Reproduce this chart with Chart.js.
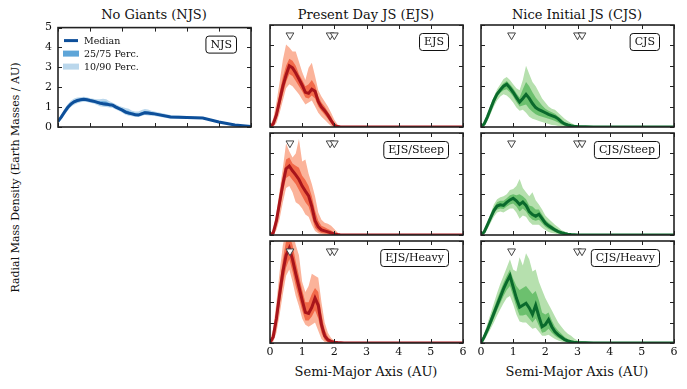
<!DOCTYPE html>
<html>
<head>
<meta charset="utf-8">
<script src="https://cdn.jsdelivr.net/npm/chart.js@4.4.1/dist/chart.umd.min.js"></script>
<style>
body { margin: 0; background: #fff; width: 687px; height: 389px; position: relative; overflow: hidden; font-family: "DejaVu Serif", serif; color: #111; }
canvas { position: absolute; }
.t { position: absolute; text-align: center; white-space: nowrap; line-height: 1; }
</style>
</head>
<body>
<div class="t" style="left:54px;top:8px;width:200px;font-size:13px">No Giants (NJS)</div>
<div class="t" style="left:266px;top:8px;width:200px;font-size:13px">Present Day JS (EJS)</div>
<div class="t" style="left:477px;top:8px;width:200px;font-size:13px">Nice Initial JS (CJS)</div>
<div class="t" style="left:266px;top:365px;width:200px;font-size:13px">Semi-Major Axis (AU)</div>
<div class="t" style="left:477px;top:365px;width:200px;font-size:13px">Semi-Major Axis (AU)</div>
<div class="t" style="left:-135px;top:172px;width:300px;font-size:11px;transform:rotate(-90deg)">Radial Mass Density (Earth Masses / AU)</div>

<script>
// semi-major axis grid (AU)
const X = [0,0.1,0.2,0.3,0.4,0.5,0.6,0.7,0.8,0.9, 1.0,1.1,1.2,1.3,1.4,1.5,1.6,1.7,1.8,1.9, 2.0,2.1,2.2,2.3,2.4,2.5,2.6,2.7,2.8,2.9, 3.0, 3.5,4.0,4.5,5.0,5.5,6.0];

// No Giants
const njsMed = [0.28,0.5,0.75,0.98,1.15,1.27,1.33,1.37,1.39,1.37, 1.33,1.3,1.25,1.2,1.17,1.15,1.12,1.1,1.0,0.92, 0.85,0.75,0.7,0.66,0.62,0.6,0.66,0.72,0.7,0.68, 0.66, 0.5,0.48,0.45,0.25,0.1,0.02];
const njsQ25 = [0.25,0.44,0.68,0.9,1.08,1.2,1.27,1.31,1.33,1.32, 1.28,1.24,1.19,1.13,1.1,1.08,1.05,1.03,0.94,0.86, 0.78,0.68,0.63,0.6,0.57,0.55,0.6,0.65,0.64,0.62, 0.6, 0.46,0.45,0.42,0.23,0.09,0.02];
const njsQ75 = [0.32,0.56,0.82,1.06,1.23,1.35,1.4,1.43,1.45,1.43, 1.38,1.36,1.32,1.3,1.3,1.28,1.2,1.16,1.07,0.99, 0.92,0.84,0.8,0.74,0.7,0.68,0.74,0.8,0.78,0.75, 0.72, 0.55,0.52,0.48,0.27,0.11,0.03];
const njsQ10 = [0.2,0.38,0.6,0.82,1.0,1.12,1.2,1.25,1.27,1.26, 1.22,1.18,1.12,1.05,1.02,1.0,0.98,0.96,0.88,0.8, 0.72,0.62,0.57,0.54,0.52,0.5,0.55,0.6,0.58,0.57, 0.55, 0.42,0.42,0.4,0.21,0.08,0.01];
const njsQ90 = [0.36,0.62,0.9,1.14,1.32,1.43,1.48,1.5,1.52,1.5, 1.45,1.42,1.4,1.4,1.42,1.4,1.3,1.22,1.14,1.06, 1.0,0.95,0.92,0.82,0.78,0.78,0.85,0.9,0.88,0.82, 0.78, 0.6,0.55,0.5,0.29,0.12,0.04];

// Present Day JS
const ejsMed = [0,0.15,0.6,1.3,2.0,2.55,3.0,2.9,2.65,2.35, 2.05,1.7,1.65,1.85,1.75,1.25,0.98,0.8,0.58,0.32, 0.08,0.02,0,0,0,0,0,0,0,0, 0, 0,0,0,0,0,0];
const ejsQ25 = [0,0.08,0.4,1.0,1.6,2.2,2.6,2.5,2.25,2.0, 1.75,1.45,1.4,1.55,1.4,1.0,0.78,0.6,0.4,0.18, 0.02,0,0,0,0,0,0,0,0,0, 0, 0,0,0,0,0,0];
const ejsQ75 = [0.02,0.25,0.85,1.7,2.45,3.0,3.35,3.25,3.0,2.6, 2.3,2.0,2.1,2.3,2.05,1.5,1.2,1.0,0.75,0.5, 0.2,0.05,0.01,0,0,0,0,0,0,0, 0, 0,0,0,0,0,0];
const ejsQ10 = [0,0,0.2,0.7,1.3,1.9,2.1,2.0,1.8,1.6, 1.35,1.1,1.2,1.3,1.0,0.7,0.5,0.35,0.2,0.05, 0,0,0,0,0,0,0,0,0,0, 0, 0,0,0,0,0,0];
const ejsQ90 = [0.05,0.4,1.2,2.2,3.3,4.05,3.9,3.7,3.7,3.2, 2.7,2.3,2.9,3.15,2.5,1.8,1.5,1.25,1.0,0.7, 0.35,0.12,0.04,0.02,0,0,0,0,0,0, 0, 0,0,0,0,0,0];

const esMed = [0,0.1,0.7,1.6,2.5,3.25,3.38,3.15,2.95,2.72, 2.4,2.15,1.92,1.4,0.7,0.4,0.25,0.2,0.15,0.1, 0.05,0.02,0,0,0,0,0,0,0,0, 0, 0,0,0,0,0,0];
const esQ25 = [0,0.04,0.45,1.25,2.1,2.8,2.9,2.7,2.5,2.2, 1.9,1.6,1.4,0.9,0.35,0.18,0.1,0.07,0.05,0.03, 0.01,0,0,0,0,0,0,0,0,0, 0, 0,0,0,0,0,0];
const esQ75 = [0.02,0.2,0.9,1.95,2.9,3.7,3.8,3.5,3.4,3.3, 2.9,2.7,2.4,1.9,1.2,0.7,0.45,0.38,0.3,0.22, 0.12,0.04,0.01,0,0,0,0,0,0,0, 0, 0,0,0,0,0,0];
const esQ10 = [0,0,0.25,0.8,1.6,2.3,2.4,2.1,1.6,1.5, 1.3,1.0,0.9,0.5,0.2,0.08,0.03,0,0,0, 0,0,0,0,0,0,0,0,0,0, 0, 0,0,0,0,0,0];
const esQ90 = [0.03,0.3,1.1,2.2,3.3,4.5,4.1,3.8,4.0,4.7, 3.6,3.7,3.0,2.5,1.9,1.1,0.75,0.6,0.55,0.45, 0.3,0.12,0.04,0.01,0,0,0,0,0,0, 0, 0,0,0,0,0,0];

const ehMed = [0.02,0.3,1.2,2.4,3.5,4.3,4.65,4.1,3.4,2.75, 2.1,1.5,1.45,1.75,2.2,1.85,0.9,0.35,0.15,0.08, 0.04,0.02,0.01,0,0,0,0,0,0,0, 0, 0,0,0,0,0,0];
const ehQ25 = [0,0.15,0.85,1.9,2.9,3.7,4.1,3.5,2.8,2.2, 1.6,1.1,1.1,1.3,1.6,1.2,0.5,0.15,0.05,0.02, 0,0,0,0,0,0,0,0,0,0, 0, 0,0,0,0,0,0];
const ehQ75 = [0.05,0.5,1.6,2.9,4.1,5.0,5.3,4.8,4.0,3.3, 2.6,2.0,2.0,2.4,2.7,2.5,1.4,0.65,0.3,0.15, 0.07,0.03,0.01,0,0,0,0,0,0,0, 0, 0,0,0,0,0,0];
const ehQ10 = [0,0.05,0.5,1.4,2.4,3.3,3.6,3.0,2.3,1.8, 1.2,0.9,0.8,0.9,1.0,0.6,0.2,0.05,0.01,0, 0,0,0,0,0,0,0,0,0,0, 0, 0,0,0,0,0,0];
const ehQ90 = [0.1,0.7,2.0,3.5,4.8,5.5,6.0,5.5,4.8,4.3, 3.0,2.5,2.8,3.4,3.3,3.2,2.0,1.0,0.5,0.25, 0.12,0.06,0.03,0.02,0.01,0,0,0,0,0, 0, 0,0,0,0,0,0];

// Nice Initial JS
const cjsMed = [0,0.15,0.5,0.9,1.3,1.62,1.82,2.0,2.1,1.92, 1.7,1.45,1.22,1.4,1.6,1.4,1.15,0.95,0.85,0.78, 0.7,0.62,0.56,0.5,0.4,0.25,0.15,0.1,0.06,0.03, 0.02, 0,0,0,0,0,0];
const cjsQ25 = [0,0.1,0.42,0.8,1.18,1.48,1.68,1.8,1.85,1.7, 1.5,1.22,1.0,1.05,1.1,0.9,0.75,0.62,0.55,0.5, 0.45,0.4,0.35,0.3,0.22,0.12,0.07,0.04,0.02,0.01, 0, 0,0,0,0,0,0];
const cjsQ75 = [0.01,0.2,0.58,1.0,1.4,1.72,1.95,2.15,2.25,2.1, 1.9,1.65,1.45,1.85,2.2,2.0,1.7,1.45,1.25,1.05, 0.9,0.8,0.72,0.65,0.52,0.38,0.25,0.17,0.1,0.06, 0.03, 0,0,0,0,0,0];
const cjsQ10 = [0,0.05,0.3,0.65,1.0,1.3,1.5,1.6,1.55,1.4, 1.2,0.95,0.8,0.85,0.7,0.5,0.4,0.35,0.3,0.25, 0.2,0.15,0.1,0.08,0.05,0.02,0,0,0,0, 0, 0,0,0,0,0,0];
const cjsQ90 = [0.02,0.25,0.65,1.1,1.5,1.85,2.1,2.35,2.45,2.3, 2.1,1.9,1.8,2.3,3.0,2.6,2.2,2.0,1.7,1.4, 1.2,1.0,0.9,0.85,0.7,0.55,0.4,0.3,0.2,0.12, 0.07, 0.01,0,0,0,0,0];

const csMed = [0,0.15,0.5,0.85,1.2,1.42,1.48,1.45,1.6,1.72, 1.8,1.68,1.5,1.62,1.45,1.15,1.0,0.92,1.02,0.8, 0.58,0.45,0.35,0.25,0.17,0.11,0.07,0.04,0.02,0.01, 0, 0,0,0,0,0,0];
const csQ25 = [0,0.1,0.4,0.72,1.05,1.25,1.3,1.28,1.4,1.5, 1.55,1.4,1.15,1.3,1.15,0.9,0.75,0.7,0.75,0.58, 0.4,0.3,0.22,0.15,0.09,0.05,0.03,0.02,0,0, 0, 0,0,0,0,0,0];
const csQ75 = [0.01,0.2,0.58,0.95,1.35,1.6,1.68,1.68,1.8,1.95, 2.0,1.95,2.0,1.9,1.75,1.45,1.4,1.25,1.25,1.0, 0.75,0.6,0.48,0.36,0.26,0.17,0.11,0.06,0.03,0.02, 0.01, 0,0,0,0,0,0];
const csQ10 = [0,0.05,0.3,0.6,0.9,1.1,1.15,1.1,1.2,1.3, 1.3,1.1,0.8,0.95,0.9,0.65,0.5,0.5,0.5,0.35, 0.25,0.15,0.1,0.07,0.04,0.02,0,0,0,0, 0, 0,0,0,0,0,0];
const csQ90 = [0.02,0.25,0.65,1.05,1.5,1.75,1.85,1.9,2.0,2.2, 2.25,2.4,2.75,2.3,2.1,1.9,2.1,1.7,1.5,1.25, 0.95,0.8,0.65,0.5,0.38,0.25,0.17,0.1,0.06,0.03, 0.02, 0,0,0,0,0,0];

const chMed = [0,0.3,0.65,1.05,1.45,1.85,2.25,2.65,3.0,3.3, 2.75,2.2,1.75,1.85,1.95,1.72,1.4,1.85,1.3,0.8, 0.9,1.15,0.8,0.55,0.4,0.28,0.16,0.1,0.06,0.03, 0.02, 0,0,0,0,0,0];
const chQ25 = [0,0.2,0.5,0.85,1.2,1.6,1.95,2.3,2.6,2.8, 2.3,1.75,1.35,1.35,1.4,1.2,1.0,1.2,0.85,0.5, 0.55,0.7,0.5,0.35,0.25,0.16,0.1,0.06,0.03,0.01, 0, 0,0,0,0,0,0];
const chQ75 = [0.02,0.38,0.8,1.25,1.7,2.15,2.55,2.95,3.3,3.6, 3.15,2.8,2.6,2.7,2.8,2.6,2.4,2.55,2.1,1.5, 1.4,1.5,1.1,0.8,0.6,0.45,0.3,0.2,0.12,0.07, 0.04, 0,0,0,0,0,0];
const chQ10 = [0,0.12,0.4,0.7,1.0,1.35,1.65,1.95,2.2,2.3, 1.9,1.4,1.05,1.0,1.0,0.85,0.7,0.75,0.55,0.35, 0.35,0.4,0.3,0.2,0.12,0.07,0.04,0.02,0,0, 0, 0,0,0,0,0,0];
const chQ90 = [0.05,0.45,0.95,1.45,1.95,2.45,2.9,3.3,3.7,4.1, 3.6,3.5,4.2,3.8,4.4,4.1,3.5,3.6,3.0,2.6, 2.2,1.9,1.6,1.3,1.0,0.8,0.6,0.45,0.35,0.22, 0.12, 0.01,0,0,0,0,0];

// planet positions marked with triangles
const ejsMarks = [0.62, 1.87, 2.0];
const cjsMarks = [0.95, 3.0, 3.14];

const blue  = { med: '#0d4f9a', mid: '#5ea5d8', out: '#bad7ec' };
const red   = { med: '#a8141b', mid: '#f26a4a', out: '#fbb39a' };
const green = { med: '#0a6a2c', mid: '#6cc06e', out: '#b6e0ae' };

const FONT = '"DejaVu Serif", serif';
const PL = 40, PT = 10, PR = 10, PB = 32, W = 193, H = 102;

const framePlugin = {
  id: 'frame',
  afterDraw(chart) {
    const o = chart.options.plugins.frame;
    const { ctx, chartArea: a, scales } = chart;
    ctx.save();
    ctx.strokeStyle = '#222';
    ctx.lineWidth = 1;
    ctx.beginPath();
    scales.x.ticks.forEach(t => {
      const px = Math.round(scales.x.getPixelForValue(t.value)) + 0.5;
      ctx.moveTo(px, a.bottom); ctx.lineTo(px, a.bottom - 4);
      ctx.moveTo(px, a.top); ctx.lineTo(px, a.top + 4);
    });
    scales.y.ticks.forEach(t => {
      const py = Math.round(scales.y.getPixelForValue(t.value)) + 0.5;
      ctx.moveTo(a.left, py); ctx.lineTo(a.left + 4, py);
      ctx.moveTo(a.right, py); ctx.lineTo(a.right - 4, py);
    });
    ctx.stroke();
    ctx.lineWidth = 1.6;
    ctx.strokeRect(a.left, a.top, a.width, a.height);

    // panel tag
    ctx.font = '11px ' + FONT;
    const tw = ctx.measureText(o.tag).width;
    const bw = tw + 9, bh = 17;
    const bx = a.right - 15 - bw, by = a.top + 8;
    ctx.beginPath();
    ctx.roundRect(bx + 0.5, by + 0.5, bw, bh, 3);
    ctx.fillStyle = '#fff';
    ctx.fill();
    ctx.lineWidth = 1;
    ctx.strokeStyle = '#111';
    ctx.stroke();
    ctx.fillStyle = '#111';
    ctx.textAlign = 'center';
    ctx.textBaseline = 'middle';
    ctx.fillText(o.tag, bx + 0.5 + bw / 2, by + 1 + bh / 2);

    if (o.legend) {
      const c = o.colors;
      const x0 = a.left + 6, y0 = a.top + 13, dy = 13;
      ctx.font = '9.5px ' + FONT;
      ctx.textAlign = 'left';
      ctx.strokeStyle = c.med;
      ctx.lineWidth = 3;
      ctx.beginPath(); ctx.moveTo(x0, y0); ctx.lineTo(x0 + 14, y0); ctx.stroke();
      ctx.fillStyle = c.mid; ctx.fillRect(x0 - 1, y0 + dy - 3, 16, 6);
      ctx.fillStyle = c.out; ctx.fillRect(x0 - 1, y0 + 2 * dy - 3, 16, 6);
      ctx.fillStyle = '#111';
      ctx.fillText('Median', x0 + 20, y0 + 1);
      ctx.fillText('25/75 Perc.', x0 + 20, y0 + dy + 1);
      ctx.fillText('10/90 Perc.', x0 + 20, y0 + 2 * dy + 1);
    }
    ctx.restore();
  }
};

function pts(arr) { return X.map((x, i) => ({ x: x, y: arr[i] })); }

function panel(left, top, s, c, tag, marks, showX, showY, legend) {
  const cv = document.createElement('canvas');
  cv.width = W + PL + PR;
  cv.height = H + PT + PB;
  cv.style.left = (left - PL) + 'px';
  cv.style.top = (top - PT) + 'px';
  document.body.appendChild(cv);
  const band = (arr, col, fill, order) => ({
    data: pts(arr), borderWidth: 0, pointRadius: 0, backgroundColor: col,
    fill: fill, order: order, tension: 0
  });
  const datasets = [
    { data: pts(s[0]), borderColor: c.med, borderWidth: 3, pointRadius: 0, fill: false, order: 1, tension: 0 },
    band(s[2], c.mid, '+1', 2),
    band(s[1], c.mid, false, 3),
    band(s[4], c.out, '+1', 4),
    band(s[3], c.out, false, 5)
  ];
  if (marks) {
    datasets.unshift({
      data: marks.map(m => ({ x: m, y: 4.5 })), showLine: false, order: 0, clip: false,
      pointStyle: 'triangle', rotation: 180, pointRadius: 4.5,
      backgroundColor: '#fafafa', borderColor: '#444', borderWidth: 1
    });
  }
  const tickFont = { family: FONT, size: 11 };
  new Chart(cv, {
    type: 'line',
    data: { datasets: datasets },
    options: {
      animation: false, responsive: false, devicePixelRatio: 1,
      layout: { padding: { top: PT, right: PR, left: 0, bottom: 0 } },
      plugins: { legend: { display: false }, tooltip: { enabled: false }, filler: { propagate: false },
                 frame: { tag: tag, legend: legend, colors: c } },
      scales: {
        x: { type: 'linear', min: 0, max: 6,
             ticks: { stepSize: 1, display: showX, font: tickFont, color: '#111', padding: 3, maxRotation: 0 },
             grid: { display: false, drawTicks: false }, border: { display: false },
             afterFit: sc => { sc.height = PB; } },
        y: { type: 'linear', min: 0, max: 5,
             ticks: { stepSize: 1, display: showY, font: tickFont, color: '#111', padding: 6 },
             grid: { display: false, drawTicks: false }, border: { display: false },
             afterFit: sc => { sc.width = PL; } }
      }
    },
    plugins: [framePlugin]
  });
}

const cols = [58, 270, 481];
const rows = [25, 133, 241];

panel(cols[0], rows[0], [njsMed, njsQ25, njsQ75, njsQ10, njsQ90], blue, 'NJS', null, false, true, true);
panel(cols[1], rows[0], [ejsMed, ejsQ25, ejsQ75, ejsQ10, ejsQ90], red, 'EJS', ejsMarks, false, false, false);
panel(cols[1], rows[1], [esMed, esQ25, esQ75, esQ10, esQ90], red, 'EJS/Steep', ejsMarks, false, false, false);
panel(cols[1], rows[2], [ehMed, ehQ25, ehQ75, ehQ10, ehQ90], red, 'EJS/Heavy', ejsMarks, true, false, false);
panel(cols[2], rows[0], [cjsMed, cjsQ25, cjsQ75, cjsQ10, cjsQ90], green, 'CJS', cjsMarks, false, false, false);
panel(cols[2], rows[1], [csMed, csQ25, csQ75, csQ10, csQ90], green, 'CJS/Steep', cjsMarks, false, false, false);
panel(cols[2], rows[2], [chMed, chQ25, chQ75, chQ10, chQ90], green, 'CJS/Heavy', cjsMarks, true, false, false);
</script>
</body>
</html>
